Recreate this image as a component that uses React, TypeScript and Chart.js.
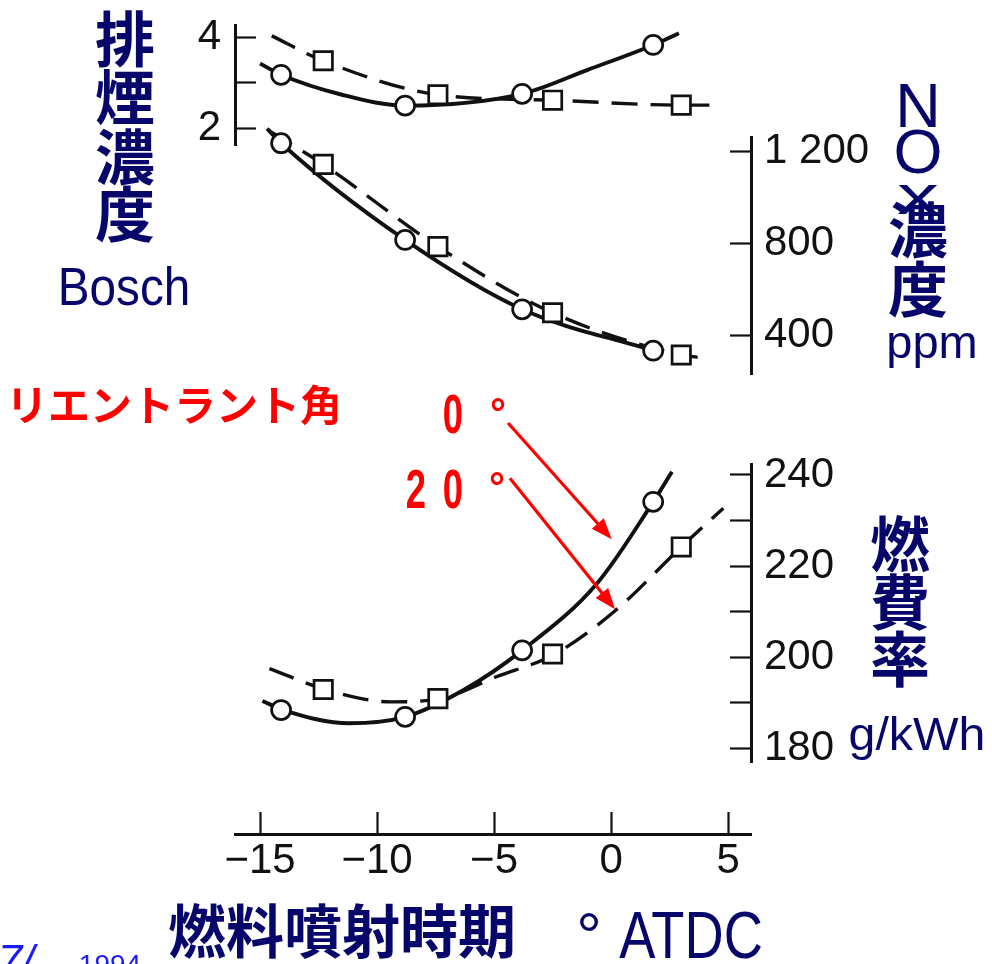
import React, { useEffect, useRef } from 'react';
import { Chart, registerables } from 'chart.js';
Chart.register(...registerables);

// ---------- data ----------
const xTickValues = [-15, -10, -5, 0, 5];

// marker positions (injection timing, deg ATDC)
const circleX = [-14.1, -8.8, -3.8, 1.8]; // reentrant angle 0°  (solid, ○)
const squareX = [-12.3, -7.4, -2.5, 3.0]; // reentrant angle 20° (dashed, □)

// smoke (Bosch)
const smokeCircle = [3.18, 2.5, 2.76, 3.84];
const smokeSquare = [3.49, 2.74, 2.62, 2.51];
const smokeSolidX = [-15.0, -14.1, -11.5, -8.8, -3.8, -1.0, 1.8, 2.9];
const smokeSolidY = [3.43, 3.18, 2.74, 2.5, 2.76, 3.29, 3.84, 4.1];
const smokeDashX = [-14.5, -12.3, -7.4, -2.5, 3.0, 4.2];
const smokeDashY = [4.04, 3.49, 2.74, 2.62, 2.51, 2.51];

// NOx (ppm)
const noxCircle = [1237, 816, 514, 334];
const noxSquare = [1145, 787, 499, 315];
const noxSolidX = [-14.7, -14.1, -8.8, -3.8, 1.8];
const noxSolidY = [1300, 1237, 816, 514, 334];
const noxDashX = [-14.6, -12.3, -7.4, -2.5, 3.0, 3.7];
const noxDashY = [1290, 1145, 787, 499, 315, 305];

// BSFC (g/kWh)
const bsfcCircle = [188.4, 186.9, 201.5, 234.1];
const bsfcSquare = [192.9, 190.9, 200.7, 224.2];
const bsfcSolidX = [-14.9, -14.0, -11.2, -8.8, -6.3, -3.8, -0.6, 1.8, 2.6];
const bsfcSolidY = [190.4, 188.4, 185.5, 186.9, 192.8, 201.5, 216.2, 234.1, 240.7];
const bsfcDashX = [-14.6, -12.2, -9.4, -7.3, -4.9, -2.4, 0.2, 3.0, 4.8];
const bsfcDashY = [197.5, 192.9, 190.2, 190.9, 195.7, 200.7, 210.3, 224.2, 232.7];

// tick values / labels
const smokeTicks = [2, 3, 4];
const smokeTickLabels = ['2', '', '4'];
const noxTicks = [400, 800, 1200];
const noxTickLabels = ['400', '800', '1 200'];
const bsfcTicks = [180, 190, 200, 210, 220, 230, 240];
const bsfcTickLabels = ['180', '', '200', '', '220', '', '240'];

// annotation arrows (x, BSFC-axis coordinates)
const arrowFromX = [-4.4, -4.32];
const arrowFromY = [251.4, 239.3];
const arrowToX = [0.03, 0.17];
const arrowToY = [225.9, 210.5];

// ---------- styling ----------
const INK = '#111111';
const NAVY = '#07076b';
const RED = '#ff0000';
const TICK_FONT = {
  family: "'Liberation Sans', Arial, sans-serif",
  size: 42,
  weight: 'normal' as const,
};
const CJK = "'Noto Sans CJK JP', 'Noto Sans CJK SC', sans-serif";
const LAT = "'Liberation Sans', Arial, sans-serif";

const pts = (xs: number[], ys: number[]) => xs.map((x, i) => ({ x, y: ys[i] }));

const curve = (xs: number[], ys: number[], axis: string, dashed: boolean) => ({
  data: pts(xs, ys),
  yAxisID: axis,
  borderColor: INK,
  borderWidth: dashed ? 3.4 : 3.9,
  borderDash: dashed ? [26, 13] : [],
  pointRadius: 0,
  cubicInterpolationMode: 'monotone' as const,
  fill: false,
  clip: false as const,
  order: 2,
});

const markers = (xs: number[], ys: number[], axis: string, style: 'circle' | 'rect') => ({
  data: pts(xs, ys),
  yAxisID: axis,
  showLine: false,
  pointStyle: style,
  pointRadius: style === 'circle' ? 9.5 : 13,
  pointBackgroundColor: '#ffffff',
  pointBorderColor: INK,
  pointBorderWidth: 2.7,
  clip: false as const,
  order: 0,
});

const fixTicks = (values: number[]) => (s: any) => {
  s.ticks = values.map((v) => ({ value: v }));
};

const noPad = (s: any) => {
  s.paddingTop = 0;
  s.paddingBottom = 0;
  s.paddingLeft = 0;
  s.paddingRight = 0;
};

const yAxis = (
  pos: 'left' | 'right',
  min: number,
  max: number,
  weight: number,
  stackWeight: number,
  values: number[],
  labels: string[],
  width: number,
) => ({
  type: 'linear' as const,
  position: pos,
  stack: pos === 'left' ? 'L' : 'R',
  stackWeight,
  weight,
  min,
  max,
  afterBuildTicks: fixTicks(values),
  afterFit: (s: any) => {
    s.width = width;
    noPad(s);
  },
  grid: {
    display: true,
    drawOnChartArea: false,
    drawTicks: true,
    tickLength: -21,
    tickWidth: 2.2,
    tickColor: INK,
  },
  border: { display: true, width: 3, color: INK },
  ticks: {
    autoSkip: false,
    padding: pos === 'left' ? 35 : 34,
    color: INK,
    font: TICK_FONT,
    callback: (v: any) => {
      const i = values.indexOf(Number(v));
      return i >= 0 ? labels[i] : '';
    },
  },
});

const blankAxis = (pos: 'left' | 'right', weight: number, stackWeight: number, width: number) => ({
  type: 'linear' as const,
  position: pos,
  stack: pos === 'left' ? 'L' : 'R',
  stackWeight,
  weight,
  min: 0,
  max: 1,
  afterFit: (s: any) => {
    s.width = width;
    noPad(s);
  },
  grid: { display: false, drawTicks: false },
  border: { display: false },
  ticks: { display: false },
});

const arrowPlugin = {
  id: 'reentrantArrows',
  afterDatasetsDraw(chart: any) {
    const xs = chart.scales.x;
    const ys = chart.scales.yBsfc;
    const ctx = chart.ctx;
    ctx.save();
    ctx.strokeStyle = RED;
    ctx.fillStyle = RED;
    ctx.lineWidth = 3.2;
    for (let i = 0; i < arrowFromX.length; i++) {
      const x0 = xs.getPixelForValue(arrowFromX[i]);
      const y0 = ys.getPixelForValue(arrowFromY[i]);
      const x1 = xs.getPixelForValue(arrowToX[i]);
      const y1 = ys.getPixelForValue(arrowToY[i]);
      const len = Math.hypot(x1 - x0, y1 - y0);
      const ux = (x1 - x0) / len;
      const uy = (y1 - y0) / len;
      const head = 21;
      const half = 8;
      const bx = x1 - ux * head;
      const by = y1 - uy * head;
      ctx.beginPath();
      ctx.moveTo(x0, y0);
      ctx.lineTo(bx + ux * 2, by + uy * 2);
      ctx.stroke();
      ctx.beginPath();
      ctx.moveTo(x1, y1);
      ctx.lineTo(bx - uy * half, by + ux * half);
      ctx.lineTo(bx + uy * half, by - ux * half);
      ctx.closePath();
      ctx.fill();
    }
    ctx.restore();
  },
};

type TxtProps = {
  t: string;
  cx: number;
  top: number;
  size: number;
  family: string;
  color: string;
  weight?: string | number;
  sx?: number;
  italic?: boolean;
};

function Txt({ t, cx, top, size, family, color, weight = 'normal', sx = 1, italic = false }: TxtProps) {
  return (
    <div
      style={{
        position: 'absolute',
        left: cx,
        top,
        fontSize: size,
        lineHeight: `${size}px`,
        fontFamily: family,
        fontWeight: weight as any,
        fontStyle: italic ? 'italic' : 'normal',
        color,
        whiteSpace: 'nowrap',
        transform: `translateX(-50%) scaleX(${sx})`,
        transformOrigin: 'center',
      }}
    >
      {t}
    </div>
  );
}

export default function App() {
  const ref = useRef<HTMLCanvasElement | null>(null);

  useEffect(() => {
    if (!ref.current) return;
    const chart = new Chart(ref.current, {
      type: 'line',
      data: {
        datasets: [
          markers(circleX, smokeCircle, 'ySmoke', 'circle'),
          markers(squareX, smokeSquare, 'ySmoke', 'rect'),
          markers(circleX, noxCircle, 'yNox', 'circle'),
          markers(squareX, noxSquare, 'yNox', 'rect'),
          markers(circleX, bsfcCircle, 'yBsfc', 'circle'),
          markers(squareX, bsfcSquare, 'yBsfc', 'rect'),
          curve(smokeSolidX, smokeSolidY, 'ySmoke', false),
          curve(smokeDashX, smokeDashY, 'ySmoke', true),
          curve(noxSolidX, noxSolidY, 'yNox', false),
          curve(noxDashX, noxDashY, 'yNox', true),
          curve(bsfcSolidX, bsfcSolidY, 'yBsfc', false),
          curve(bsfcDashX, bsfcDashY, 'yBsfc', true),
        ] as any,
      },
      options: {
        responsive: false,
        animation: false,
        events: [],
        layout: { padding: { top: 25, left: 0, right: 0, bottom: 0 } },
        plugins: { legend: { display: false }, tooltip: { enabled: false } },
        scales: {
          x: {
            type: 'linear',
            position: 'bottom',
            min: -16.07,
            max: 5.98,
            afterBuildTicks: fixTicks(xTickValues),
            afterFit: (s: any) => {
              s.height = 130;
              noPad(s);
            },
            grid: {
              display: true,
              drawOnChartArea: false,
              drawTicks: true,
              tickLength: -22,
              tickWidth: 2.2,
              tickColor: INK,
            },
            border: { display: true, width: 3, color: INK },
            ticks: {
              autoSkip: false,
              maxRotation: 0,
              padding: 24,
              color: INK,
              font: TICK_FONT,
              callback: (v: any) => {
                const n = Number(v);
                return n < 0 ? '\u2212' + Math.abs(n) : String(n);
              },
            },
          },
          // left stack (top -> bottom placed by descending weight)
          ySmoke: yAxis('left', 1.63, 4.28, 2, 120, smokeTicks, smokeTickLabels, 235),
          yBlankL: blankAxis('left', 1, 689, 235),
          // right stack (top -> bottom placed by ascending weight)
          yTopR: blankAxis('right', 0, 112, 241),
          yNox: yAxis('right', 232.4, 1264, 1, 237, noxTicks, noxTickLabels, 241),
          yGapR: blankAxis('right', 2, 90, 241),
          yBsfc: yAxis('right', 176.99, 242.41, 3, 298, bsfcTicks, bsfcTickLabels, 241),
          yBotR: blankAxis('right', 4, 72, 241),
        } as any,
      },
      plugins: [arrowPlugin],
    });
    return () => chart.destroy();
  }, []);

  return (
    <div
      style={{
        position: 'fixed',
        left: 0,
        top: 0,
        width: 992,
        height: 964,
        overflow: 'hidden',
        background: '#ffffff',
      }}
    >
      <canvas ref={ref} width={992} height={964} style={{ position: 'absolute', left: 0, top: 0 }} />

      {/* left: smoke */}
      <Txt t="排" cx={125} top={6} size={60} family={CJK} color={NAVY} weight={700} />
      <Txt t="煙" cx={125} top={64} size={60} family={CJK} color={NAVY} weight={700} />
      <Txt t="濃" cx={125} top={124} size={60} family={CJK} color={NAVY} weight={700} />
      <Txt t="度" cx={125} top={181} size={60} family={CJK} color={NAVY} weight={700} />
      <Txt t="Bosch" cx={124} top={260} size={53} family={LAT} color={NAVY} sx={0.9} />

      {/* right: NOx */}
      <Txt t="N" cx={918} top={74} size={63} family={LAT} color={NAVY} />
      <Txt t="O" cx={918} top={120} size={63} family={LAT} color={NAVY} />
      <Txt t="x" cx={918} top={167} size={56} family={LAT} color={NAVY} sx={1.5} />
      <Txt t="濃" cx={918} top={197} size={60} family={CJK} color={NAVY} weight={700} />
      <Txt t="度" cx={918} top={256} size={60} family={CJK} color={NAVY} weight={700} />
      <Txt t="ppm" cx={932} top={318} size={47} family={LAT} color={NAVY} />

      {/* right: BSFC */}
      <Txt t="燃" cx={900} top={511} size={60} family={CJK} color={NAVY} weight={700} />
      <Txt t="費" cx={900} top={569} size={60} family={CJK} color={NAVY} weight={700} />
      <Txt t="率" cx={900} top={626} size={60} family={CJK} color={NAVY} weight={700} />
      <Txt t="g/kWh" cx={917} top={711} size={46} family={LAT} color={NAVY} sx={1.05} />

      {/* red annotation */}
      <Txt t="リエントラント角" cx={174} top={382} size={42} family={CJK} color={RED} weight={700} />
      <Txt t="0" cx={453} top={386} size={56} family={LAT} color={RED} weight={700} sx={0.65} />
      <Txt t="°" cx={498} top={393} size={40} family={LAT} color={RED} weight={700} />
      <Txt t="2" cx={416} top={461} size={56} family={LAT} color={RED} weight={700} sx={0.65} />
      <Txt t="0" cx={453} top={461} size={56} family={LAT} color={RED} weight={700} sx={0.65} />
      <Txt t="°" cx={497} top={467} size={40} family={LAT} color={RED} weight={700} />

      {/* x axis title */}
      <Txt t="燃料噴射時期" cx={342} top={899} size={58} family={CJK} color={NAVY} weight={700} />
      <Txt t="°" cx={589} top={904} size={64} family={LAT} color={NAVY} />
      <Txt t="ATDC" cx={691} top={901} size={67} family={LAT} color={NAVY} sx={0.81} />

      {/* cut-off source line */}
      <Txt t="7/" cx={16} top={939} size={44} family={LAT} color="#1a1aff" italic />
      <Txt t="1994" cx={110} top={951} size={28} family={LAT} color="#1a1aff" />
    </div>
  );
}
